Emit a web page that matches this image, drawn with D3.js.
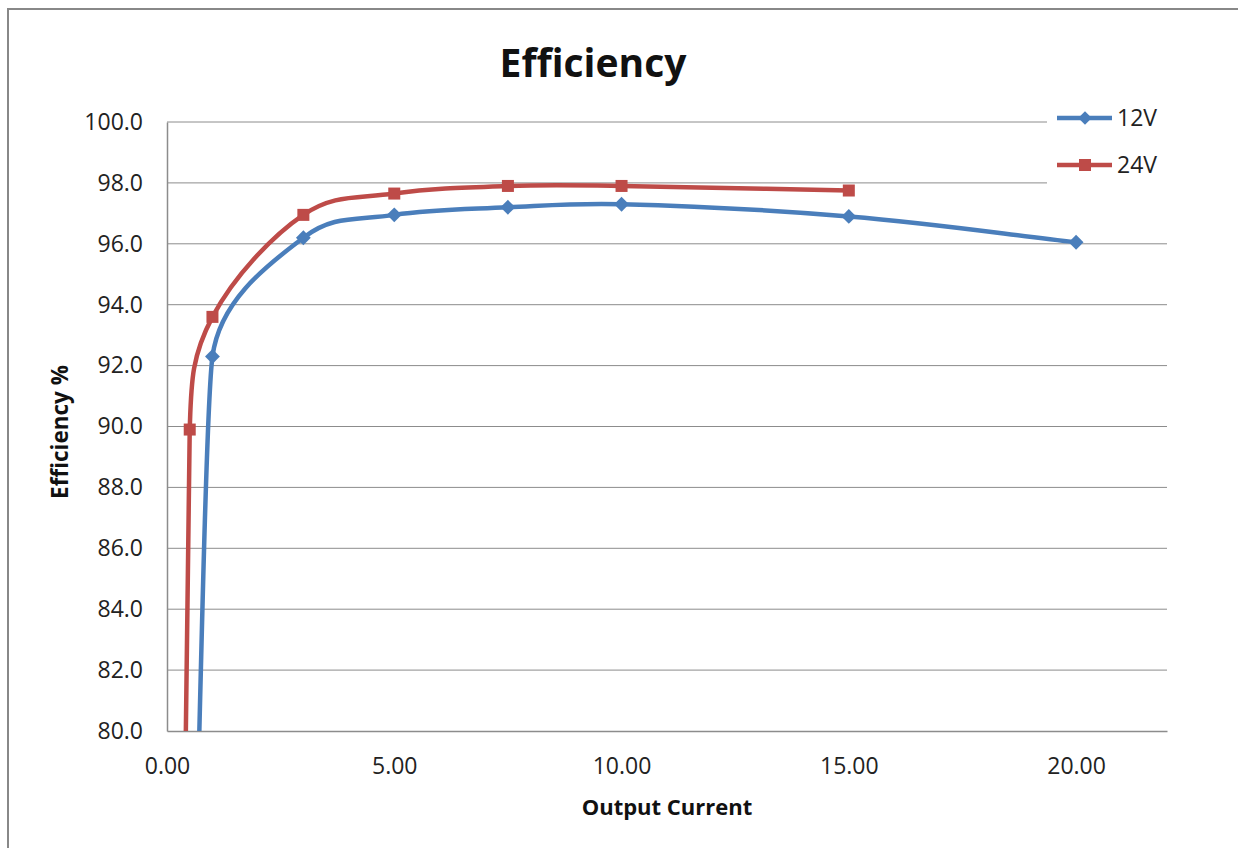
<!DOCTYPE html>
<html><head><meta charset="utf-8">
<script src="https://cdn.jsdelivr.net/npm/d3@7"></script>
<style>body{margin:0;background:#fff;}svg{display:block;font-family:"Open Sans",sans-serif;}</style>
</head><body>
<svg id="c" width="1238" height="848"></svg>
<script>
const xTicks = [0, 5, 10, 15, 20];
const yTicks = [80, 82, 84, 86, 88, 90, 92, 94, 96, 98, 100];
const current12 = [0.5, 1, 3, 5, 7.5, 10, 15, 20];
const eff12 = [67.5, 92.3, 96.2, 96.95, 97.2, 97.3, 96.9, 96.05];
const current24 = [0.25, 0.5, 1, 3, 5, 7.5, 10, 15];
const eff24 = [60, 89.9, 93.6, 96.95, 97.65, 97.9, 97.9, 97.75];
const seriesNames = ["12V", "24V"];

// Smoothed-line curve (Bezier with tangent-limited control arms), used as a d3 curve factory
function SmoothCurve(context) { this._context = context; }
SmoothCurve.prototype = {
  areaStart() {}, areaEnd() {},
  lineStart() { this._p = []; },
  point(x, y) { this._p.push([+x, +y]); },
  lineEnd() {
    const p = this._p, n = p.length, c = this._context, f = 0.4;
    if (!n) return;
    c.moveTo(p[0][0], p[0][1]);
    if (n === 1) return;
    const dist = (a, b) => Math.hypot(b[0] - a[0], b[1] - a[1]);
    const tan = [], arm = [];
    for (let i = 0; i < n; i++) {
      const a = p[Math.max(0, i - 1)], b = p[Math.min(n - 1, i + 1)];
      const dx = b[0] - a[0], dy = b[1] - a[1], l = Math.hypot(dx, dy) || 1;
      tan.push([dx / l, dy / l]);
      if (i === 0) arm.push(dist(p[0], p[1]) / 3);
      else if (i === n - 1) arm.push(dist(p[n - 2], p[n - 1]) / 3);
      else arm.push(f * Math.min(dist(p[i - 1], p[i]), dist(p[i], p[i + 1])));
    }
    for (let i = 0; i < n - 1; i++) {
      const a = p[i], b = p[i + 1];
      c.bezierCurveTo(a[0] + tan[i][0] * arm[i], a[1] + tan[i][1] * arm[i],
        b[0] - tan[i + 1][0] * arm[i + 1], b[1] - tan[i + 1][1] * arm[i + 1], b[0], b[1]);
    }
  }
};
const curveSmooth = ctx => new SmoothCurve(ctx);

const svg = d3.select("#c");
const L = 167, R = 1167, T = 122, B = 731;
const x = d3.scaleLinear().domain([0, 22]).range([L, R]);
const y = d3.scaleLinear().domain([80, 100]).range([B, T]);
const FS = 23;

// outer border
svg.append("rect").attr("x", 8).attr("y", 9).attr("width", 1300).attr("height", 900)
  .attr("fill", "#fff").attr("stroke", "#888").attr("stroke-width", 2);

// gridlines
svg.append("g").selectAll("line").data(yTicks.slice(1)).join("line")
  .attr("x1", L).attr("x2", R).attr("y1", d => y(d)).attr("y2", d => y(d))
  .attr("stroke", "#8c8c8c").attr("stroke-width", 1);

// axes
const yAxis = d3.axisLeft(y).tickValues(yTicks).tickFormat(d3.format(".1f")).tickSize(0).tickPadding(24);
const gy = svg.append("g").attr("transform", `translate(${L},0)`).call(yAxis);
gy.select(".domain").attr("stroke", "#8c8c8c").attr("stroke-width", 1.5);
gy.selectAll("text").attr("font-size", FS).attr("fill", "#222").attr("font-family", "Open Sans");

const xAxis = d3.axisBottom(x).tickValues(xTicks).tickFormat(d3.format(".2f")).tickSize(0).tickPadding(27);
const gx = svg.append("g").attr("transform", `translate(0,${B})`).call(xAxis);
gx.select(".domain").attr("stroke", "#8c8c8c").attr("stroke-width", 1.5);
gx.selectAll("text").attr("font-size", FS).attr("fill", "#222").attr("font-family", "Open Sans");

// clip
svg.append("clipPath").attr("id", "clip").append("rect")
  .attr("x", L).attr("y", T - 20).attr("width", R - L + 20).attr("height", B - T + 20);

const line = d3.line().x(d => x(d[0])).y(d => y(d[1])).curve(curveSmooth);
const colors = ["#4a7ebb", "#be4b48"];
const data = [
  current12.map((c, i) => [c, eff12[i]]),
  current24.map((c, i) => [c, eff24[i]])
];

const plot = svg.append("g").attr("clip-path", "url(#clip)");
data.forEach((d, k) => {
  plot.append("path").datum(d).attr("d", line).attr("fill", "none")
    .attr("stroke", colors[k]).attr("stroke-width", 4.5);
});
plot.selectAll(".m12").data(data[0]).join("path")
  .attr("d", d3.symbol().type(d3.symbolSquare).size(110)).attr("fill", colors[0])
  .attr("transform", d => `translate(${x(d[0])},${y(d[1])}) rotate(45)`);
plot.selectAll(".m24").data(data[1]).join("rect")
  .attr("x", d => x(d[0]) - 6).attr("y", d => y(d[1]) - 6)
  .attr("width", 12).attr("height", 12).attr("fill", colors[1]);

// legend
const lg = svg.append("g");
lg.append("rect").attr("x", 1047).attr("y", 95).attr("width", 180).attr("height", 95).attr("fill", "#fff");
seriesNames.forEach((n, k) => {
  const yy = 118 + k * 47;
  lg.append("line").attr("x1", 1057).attr("x2", 1112).attr("y1", yy).attr("y2", yy)
    .attr("stroke", colors[k]).attr("stroke-width", 4.5);
  if (k === 0) {
    lg.append("path").attr("d", d3.symbol().type(d3.symbolSquare).size(90))
      .attr("transform", `translate(1085,${yy}) rotate(45)`).attr("fill", colors[k]);
  } else {
    lg.append("rect").attr("x", 1079).attr("y", yy - 6).attr("width", 12).attr("height", 12).attr("fill", colors[k]);
  }
  lg.append("text").attr("x", 1117).attr("y", yy + 8).attr("font-size", FS).attr("fill", "#222").text(n);
});

// title and labels
svg.append("text").attr("x", 593).attr("y", 77).attr("text-anchor", "middle")
  .attr("font-size", 39).attr("font-weight", "bold").attr("fill", "#111").text("Efficiency");
svg.append("text").attr("x", 667).attr("y", 815).attr("text-anchor", "middle")
  .attr("font-size", 22).attr("font-weight", "bold").attr("fill", "#111").text("Output Current");
svg.append("text").attr("transform", "translate(68,432) rotate(-90)").attr("text-anchor", "middle")
  .attr("font-size", 22.5).attr("font-weight", "bold").attr("fill", "#111").text("Efficiency %");
</script>
</body></html>
